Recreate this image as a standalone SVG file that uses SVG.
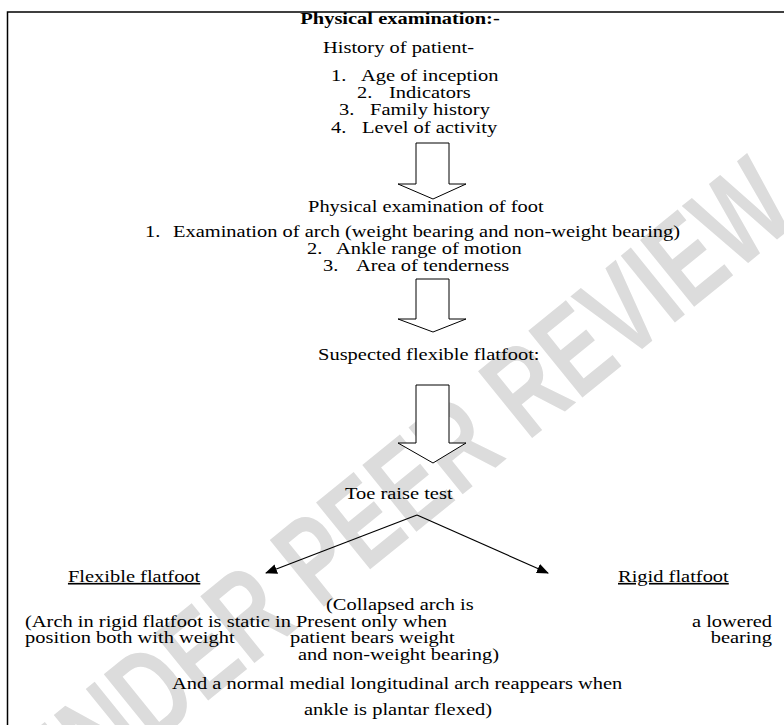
<svg xmlns="http://www.w3.org/2000/svg" width="784" height="725" viewBox="0 0 784 725">
<style>
  .t { font-family: "Liberation Serif", "Times New Roman", serif; font-size: 16.5px; fill: #000; }
  .b { font-weight: bold; }
  .u { text-decoration: underline; }
  .blk { fill: #fff; stroke: #000; stroke-width: 1; }
  .wm { font-family: "Liberation Sans", Arial, sans-serif; font-weight: bold; font-size: 125px; fill: #dcdcdc; }
  .conn { stroke: #000; stroke-width: 1.2; fill: none; }
</style>
<defs>
  <marker id="ah" markerWidth="12" markerHeight="10" refX="11" refY="5" orient="auto" markerUnits="userSpaceOnUse">
    <path d="M0,0 L12,5 L0,10 Z" fill="#000"/>
  </marker>
</defs>
<rect x="0" y="0" width="784" height="725" fill="#fff"/>
<g id="watermark">
  <text class="wm" transform="translate(53,826) rotate(-39)" textLength="963" lengthAdjust="spacingAndGlyphs">UNDER PEER REVIEW</text>
</g>
<rect id="frame" x="7.5" y="12" width="800" height="800" fill="none" stroke="#000" stroke-width="1.5"/>
<g id="blocks">
  <polygon id="arrow1" class="blk" points="416,143 449,143 449,184 466,184 433,199 398,184 416,184"/>
  <polygon id="arrow2" class="blk" points="416,279 449,279 449,319 466,319 433,332 398,319 416,319"/>
  <polygon id="arrow3" class="blk" points="416,385 449,385 449,443 466,443 433,463 398,443 416,443"/>
</g>
<g id="connectors">
  <line class="conn" x1="417" y1="515" x2="266" y2="573" marker-end="url(#ah)"/>
  <line class="conn" x1="417" y1="515" x2="548" y2="573" marker-end="url(#ah)"/>
</g>
<g transform="scale(1.24 1)">
  <g id="title"><text class="t b" x="322.6" y="24" text-anchor="middle">Physical examination:-</text></g>
  <g id="history">
    <text class="t" x="260.5" y="53">History of patient-</text>
    <text class="t" x="266.9" y="81">1.</text><text class="t" x="291.1" y="81">Age of inception</text>
    <text class="t" x="287.9" y="98">2.</text><text class="t" x="313.7" y="98">Indicators</text>
    <text class="t" x="273.4" y="115">3.</text><text class="t" x="298.4" y="115">Family history</text>
    <text class="t" x="266.9" y="133">4.</text><text class="t" x="291.9" y="133">Level of activity</text>
  </g>
  <g id="foot-exam">
    <text class="t" x="248.4" y="212">Physical examination of foot</text>
    <text class="t" x="116.9" y="237">1.</text><text class="t" x="139.5" y="237">Examination of arch (weight bearing and non-weight bearing)</text>
    <text class="t" x="247.6" y="254">2.</text><text class="t" x="271" y="254">Ankle range of motion</text>
    <text class="t" x="260.5" y="271">3.</text><text class="t" x="287.1" y="271">Area of tenderness</text>
  </g>
  <g id="suspected"><text class="t" x="256.5" y="360">Suspected flexible flatfoot:</text></g>
  <g id="toe-raise"><text class="t" x="278.2" y="499">Toe raise test</text></g>
  <g id="flexible"><text class="t u" x="54.8" y="582">Flexible flatfoot</text></g>
  <g id="rigid"><text class="t u" x="498.4" y="582">Rigid flatfoot</text></g>
  <g id="notes">
    <text class="t" x="262.9" y="610">(Collapsed arch is</text>
    <text class="t" x="20.2" y="627">(Arch in rigid flatfoot is static in Present only when</text>
    <text class="t" x="622.6" y="627" text-anchor="end">a lowered</text>
    <text class="t" x="20.2" y="643">position both with weight</text>
    <text class="t" x="233.9" y="643">patient bears weight</text>
    <text class="t" x="622.6" y="643" text-anchor="end">bearing</text>
    <text class="t" x="240.3" y="660">and non-weight bearing)</text>
    <text class="t" x="138.7" y="689">And a normal medial longitudinal arch reappears when</text>
    <text class="t" x="245.2" y="715">ankle is plantar flexed)</text>
  </g>
</g>
</svg>
